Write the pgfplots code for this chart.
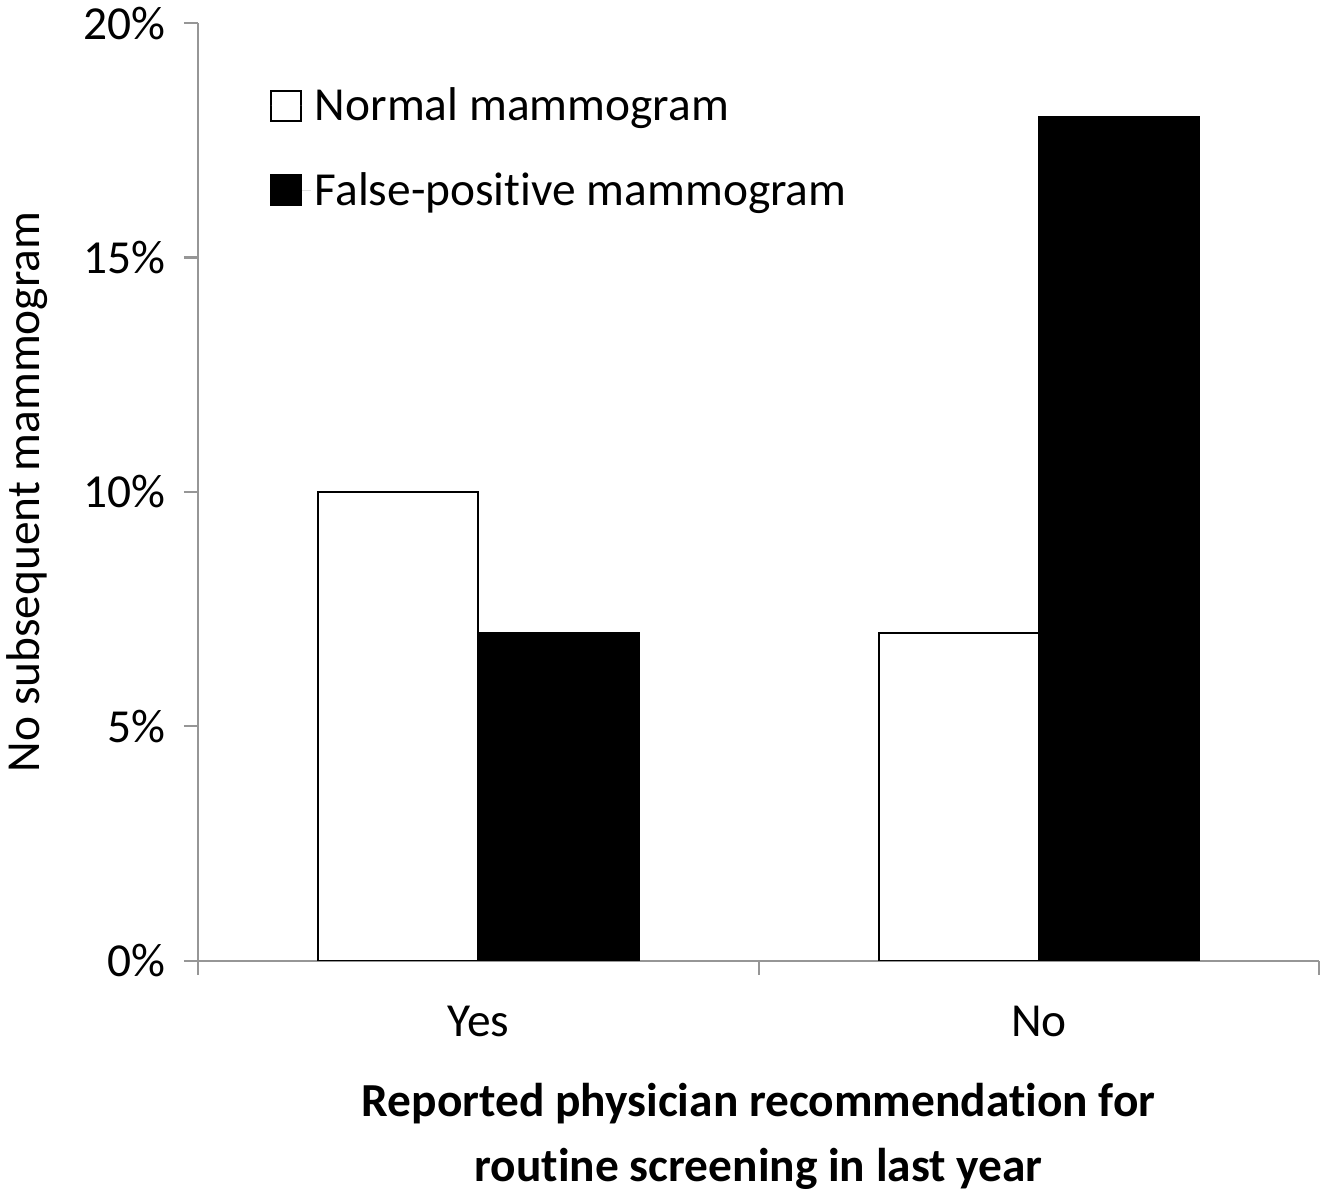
\documentclass[border=0pt]{standalone}
\usepackage{pgfplots}
\pgfplotsset{compat=1.18}
\usepackage{fontspec}
\setmainfont{Carlito}[RawFeature=-liga, RawFeature=-clig, RawFeature=-calt, RawFeature=-dlig]
\definecolor{axgray}{RGB}{150,150,150}

\begin{document}
\begin{tikzpicture}
\begin{axis}[
  scale only axis,
  width=556pt, height=465pt,
  font=\fontsize{23.5}{28}\selectfont,
  /pgf/number format/assume math mode=true,
  ybar=0pt, bar width=79.5pt,
  xmin=-0.5, xmax=1.5, ymin=0, ymax=20,
  axis lines*=left,
  axis line style={axgray, line width=1pt},
  tick style={axgray, line width=1pt},
  tick align=outside,
  major tick length=7pt,
  xtick={-0.5,0.5,1.5}, xticklabels={},
  extra x ticks={0,1}, extra x tick labels={Yes,No},
  extra x tick style={major tick length=0pt, xticklabel style={yshift=-19pt}},
  ytick={0,5,10,15,20},
  yticklabel={\pgfmathprintnumber{\tick}\%},
  yticklabel style={xshift=-5.5pt},
  ylabel={No subsequent mammogram},
  ylabel style={yshift=11pt},
  xlabel={Reported physician recommendation for\\routine screening in last year},
  xlabel style={align=center, font=\fontsize{23.5}{32.5}\selectfont\bfseries, yshift=-9pt},
  legend style={at={(rel axis cs:0.058,0.94)}, anchor=north west, draw=none, fill=none,
    row sep=20pt, font=\fontsize{23.5}{28}\selectfont},
  legend cell align=left,
]
\addplot[draw=black, fill=white, line width=1pt,
  legend image code/.code={\draw[black, fill=white, line width=1pt] (0pt,-7.5pt) rectangle (15pt,7.5pt); \path[draw=none] (0pt,0pt) -- (20pt,0pt);}]
  coordinates {(0,10) (1,7)};
\addlegendentry{Normal mammogram}
\addplot[draw=black, fill=black, line width=1pt,
  legend image code/.code={\draw[black, fill=black, line width=1pt] (0pt,-7.5pt) rectangle (15pt,7.5pt); \path[draw=none] (0pt,0pt) -- (20pt,0pt);}]
  coordinates {(0,7) (1,18)};
\addlegendentry{False-positive mammogram}
\end{axis}
\end{tikzpicture}
\end{document}
